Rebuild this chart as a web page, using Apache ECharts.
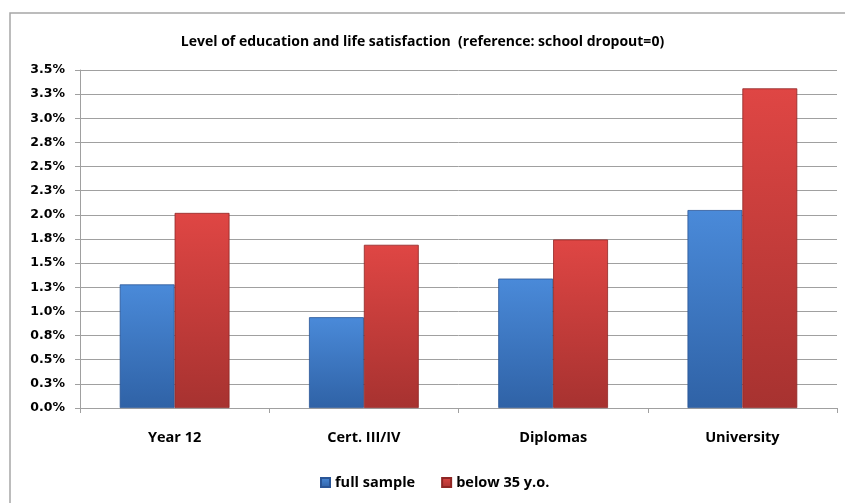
<!DOCTYPE html>
<html>
<head>
<meta charset="utf-8">
<script src="https://cdn.jsdelivr.net/npm/echarts@6/dist/echarts.min.js"></script>
<style>
html,body{margin:0;padding:0;background:#fff;}
#c{width:845px;height:503px;}
</style>
</head>
<body>
<div id="c"></div>
<script>
const categories = ['Year 12', 'Cert. III/IV', 'Diplomas', 'University'];
const fullSample = [1.28, 0.94, 1.34, 2.05];
const below35 = [2.02, 1.69, 1.745, 3.31];
const seriesNames = ['full sample', 'below 35 y.o.'];
const titleText = 'Level of education and life satisfaction  (reference: school dropout=0)';

const narrow = '"Liberation Sans Narrow", "Open Sans", sans-serif';
function grad(top, bottom) {
  return new echarts.graphic.LinearGradient(0, 0, 0, 1, [
    { offset: 0, color: top },
    { offset: 1, color: bottom }
  ]);
}
const blueFill = grad('#4a8ad9', '#2f62a6');
const redFill = grad('#df4644', '#a73230');

const chart = echarts.init(document.getElementById('c'), null, { renderer: 'canvas' });
chart.setOption({
  animation: false,
  backgroundColor: '#fff',
  graphic: [{
    type: 'rect',
    shape: { x: 10, y: 13, width: 900, height: 600 },
    style: { fill: 'none', stroke: '#a6a6a6', lineWidth: 1.5 },
    z: -1
  }],
  title: {
    text: titleText,
    left: 'center',
    top: 30,
    textStyle: { fontFamily: narrow, fontWeight: 'bold', fontSize: 14, color: '#000' }
  },
  legend: {
    bottom: 8,
    left: 315,
    itemWidth: 9,
    itemHeight: 9,
    itemGap: 26,
    icon: 'rect',
    textStyle: { fontFamily: narrow, fontWeight: 'bold', fontSize: 14.5, color: '#000' },
    data: [
      { name: seriesNames[0], itemStyle: { color: blueFill } },
      { name: seriesNames[1], itemStyle: { color: redFill } }
    ]
  },
  grid: { left: 80, right: 8, top: 70, bottom: 95 },
  xAxis: {
    type: 'category',
    data: categories,
    axisLine: { lineStyle: { color: '#a0a0a0', width: 1 } },
    axisTick: { show: true, length: 5, lineStyle: { color: '#a0a0a0' } },
    axisLabel: { fontFamily: narrow, fontWeight: 'bold', fontSize: 14.5, color: '#000', margin: 22 }
  },
  yAxis: {
    type: 'value',
    min: 0,
    max: 3.5,
    interval: 0.25,
    axisLine: { show: true, lineStyle: { color: '#a0a0a0', width: 1 } },
    axisTick: { show: true, length: 5, lineStyle: { color: '#a0a0a0' } },
    splitLine: { lineStyle: { color: '#a0a0a0', width: 1 } },
    axisLabel: {
      fontFamily: '"DejaVu Sans", sans-serif',
      fontWeight: 'bold',
      fontSize: 12.5,
      color: '#000',
      margin: 15,
      formatter: v => (Math.round(v * 10 + 1e-9) / 10).toFixed(1) + '%'
    }
  },
  series: [
    {
      name: seriesNames[0],
      type: 'bar',
      data: fullSample,
      barGap: '0%',
      barCategoryGap: '42%',
      itemStyle: { color: blueFill, borderColor: '#2a5596', borderWidth: 0.8 }
    },
    {
      name: seriesNames[1],
      type: 'bar',
      data: below35,
      barGap: '0%',
      barCategoryGap: '42%',
      itemStyle: { color: redFill, borderColor: '#8f2624', borderWidth: 0.8 }
    }
  ]
});
</script>
</body>
</html>
